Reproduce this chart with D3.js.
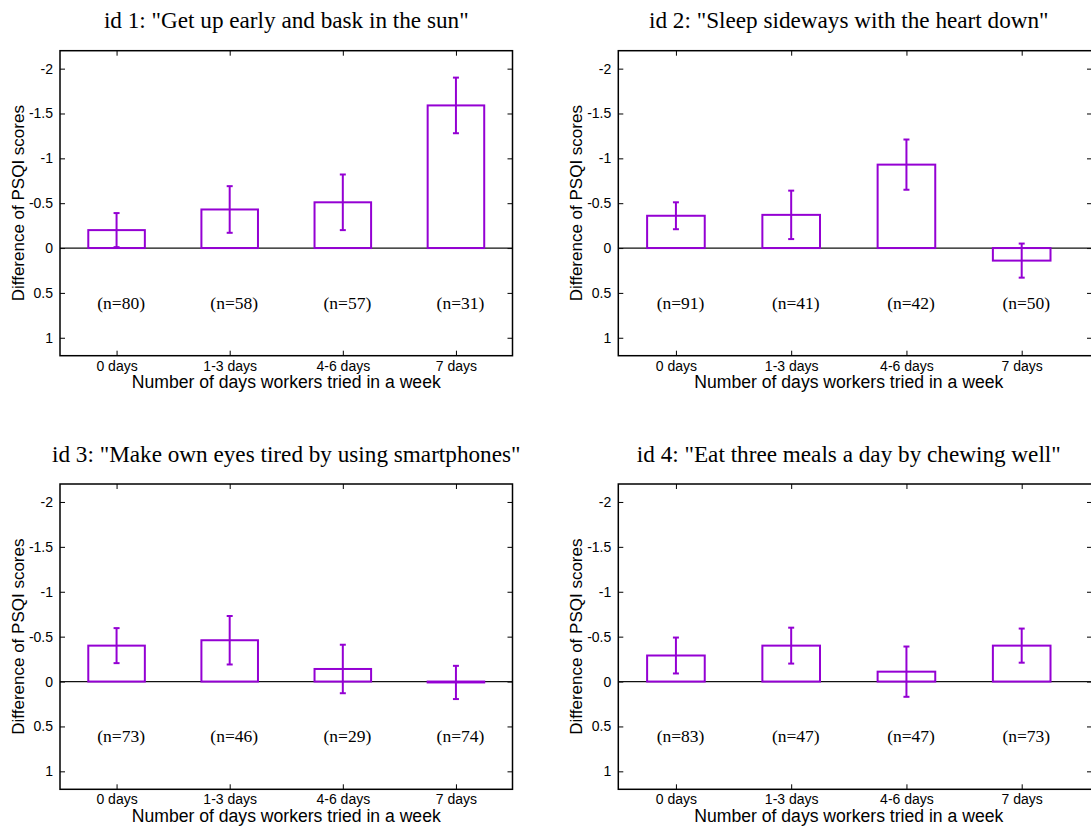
<!DOCTYPE html>
<html>
<head>
<meta charset="utf-8">
<script src="https://cdn.jsdelivr.net/npm/d3@7.9.0/dist/d3.min.js"></script>
<style>
  body { margin: 0; background: #fff; }
  svg { display: block; }
</style>
</head>
<body>
<svg id="chart" width="1091" height="829"></svg>
<script>
const categories = ['0 days', '1-3 days', '4-6 days', '7 days'];
const yTicks = [-2, -1.5, -1, -0.5, 0, 0.5, 1];

const titles = [
  'id 1: "Get up early and bask in the sun"',
  'id 2: "Sleep sideways with the heart down"',
  'id 3: "Make own eyes tired by using smartphones"',
  'id 4: "Eat three meals a day by chewing well"',
];

// mean difference of PSQI score, its error, and group size per panel
const means1 = [-0.20, -0.43, -0.51, -1.59];
const errs1 = [0.19, 0.26, 0.31, 0.31];
const counts1 = [80, 58, 57, 31];

const means2 = [-0.36, -0.37, -0.93, 0.14];
const errs2 = [0.15, 0.27, 0.28, 0.19];
const counts2 = [91, 41, 42, 50];

const means3 = [-0.40, -0.46, -0.14, 0.01];
const errs3 = [0.195, 0.27, 0.27, 0.185];
const counts3 = [73, 46, 29, 74];

const means4 = [-0.29, -0.40, -0.11, -0.40];
const errs4 = [0.20, 0.20, 0.28, 0.19];
const counts4 = [83, 47, 47, 73];

const panelData = [
  { means: means1, errs: errs1, counts: counts1 },
  { means: means2, errs: errs2, counts: counts2 },
  { means: means3, errs: errs3, counts: counts3 },
  { means: means4, errs: errs4, counts: counts4 },
];

// frame of each panel in pixels; the right column is cut by the page edge
const frames = [
  { left: 60, right: 512.5, top: 50.7, bottom: 355.7, xMax: 3.5 },
  { left: 618.3, right: 1092, top: 50.7, bottom: 355.7, xMax: 3.61 },
  { left: 60, right: 512.5, top: 484, bottom: 789.3, xMax: 3.5 },
  { left: 618.3, right: 1092, top: 484, bottom: 789.3, xMax: 3.61 },
];

const PURPLE = '#9400d3';
const SANS = '"Liberation Sans", Arial, sans-serif';
const SERIF = '"Liberation Serif", "Times New Roman", serif';

const svg = d3.select('#chart');

function drawPanel(index) {
  const f = frames[index];
  const { means, errs, counts } = panelData[index];
  const g = svg.append('g');

  const x = d3.scaleLinear().domain([-0.5, f.xMax]).range([f.left, f.right]);
  const y = d3.scaleLinear().domain([-2.2, 1.2]).range([f.top, f.bottom]);
  const xs = categories.map((_, i) => i);

  // ticks on all four sides, pointing inward
  const yAxis = g.append('g')
    .attr('transform', `translate(${f.left},0)`)
    .call(d3.axisLeft(y).tickValues(yTicks).tickSize(-5).tickPadding(7).tickFormat((d) => String(d)));
  g.append('g')
    .attr('transform', `translate(${f.right},0)`)
    .call(d3.axisRight(y).tickValues(yTicks).tickSize(-5).tickFormat(''));
  const xAxis = g.append('g')
    .attr('transform', `translate(0,${f.bottom})`)
    .call(d3.axisBottom(x).tickValues(xs).tickSize(-5).tickPadding(5).tickFormat((i) => categories[i]));
  g.append('g')
    .attr('transform', `translate(0,${f.top})`)
    .call(d3.axisTop(x).tickValues(xs).tickSize(-5).tickFormat(''));

  g.selectAll('.domain').remove();
  g.selectAll('.tick line').attr('stroke', '#000').attr('stroke-width', 1);
  [yAxis, xAxis].forEach((a) => a.selectAll('text')
    .attr('font-family', SANS)
    .attr('font-size', 14)
    .attr('fill', '#000'));

  // zero line
  g.append('line')
    .attr('x1', f.left).attr('x2', f.right)
    .attr('y1', y(0)).attr('y2', y(0))
    .attr('stroke', '#111').attr('stroke-width', 1.2);

  const barW = x(0.25) - x(0);
  g.selectAll('rect.bar')
    .data(means)
    .join('rect')
    .attr('class', 'bar')
    .attr('x', (d, i) => x(i) - barW)
    .attr('width', barW * 2)
    .attr('y', (d) => Math.min(y(d), y(0)))
    .attr('height', (d) => Math.max(Math.abs(y(d) - y(0)), 0.5))
    .attr('fill', 'none')
    .attr('stroke', PURPLE)
    .attr('stroke-width', 2);

  const bars = means.map((m, i) => ({ i, lo: m - errs[i], hi: m + errs[i] }));
  const eb = g.selectAll('g.err').data(bars).join('g').attr('class', 'err')
    .attr('stroke', PURPLE).attr('stroke-width', 2);
  eb.append('line')
    .attr('x1', (d) => x(d.i)).attr('x2', (d) => x(d.i))
    .attr('y1', (d) => y(d.lo)).attr('y2', (d) => y(d.hi));
  eb.append('line')
    .attr('x1', (d) => x(d.i) - 3).attr('x2', (d) => x(d.i) + 3)
    .attr('y1', (d) => y(d.lo)).attr('y2', (d) => y(d.lo));
  eb.append('line')
    .attr('x1', (d) => x(d.i) - 3).attr('x2', (d) => x(d.i) + 3)
    .attr('y1', (d) => y(d.hi)).attr('y2', (d) => y(d.hi));

  g.selectAll('text.n')
    .data(counts)
    .join('text')
    .attr('class', 'n')
    .attr('x', (d, i) => x(i + 0.04))
    .attr('y', y(0.61))
    .attr('dy', '0.35em')
    .attr('text-anchor', 'middle')
    .attr('font-family', SERIF)
    .attr('font-size', 17.5)
    .text((d) => `(n=${d})`);

  // frame
  g.append('rect')
    .attr('x', f.left).attr('y', f.top)
    .attr('width', f.right - f.left).attr('height', f.bottom - f.top)
    .attr('fill', 'none').attr('stroke', '#000').attr('stroke-width', 1.5);

  const midX = x(1.5);
  g.append('text')
    .attr('x', midX).attr('y', f.top - 22.5)
    .attr('text-anchor', 'middle')
    .attr('font-family', SERIF)
    .attr('font-size', 23.2)
    .text(titles[index]);

  g.append('text')
    .attr('x', midX).attr('y', f.bottom + 32.5)
    .attr('text-anchor', 'middle')
    .attr('font-family', SANS)
    .attr('font-size', 17.6)
    .text('Number of days workers tried in a week');

  g.append('text')
    .attr('transform', `translate(${f.left - 42},${(f.top + f.bottom) / 2}) rotate(-90)`)
    .attr('dy', '0.35em')
    .attr('text-anchor', 'middle')
    .attr('font-family', SANS)
    .attr('font-size', 17)
    .text('Difference of PSQI scores');
}

panelData.forEach((_, i) => drawPanel(i));
</script>
</body>
</html>
